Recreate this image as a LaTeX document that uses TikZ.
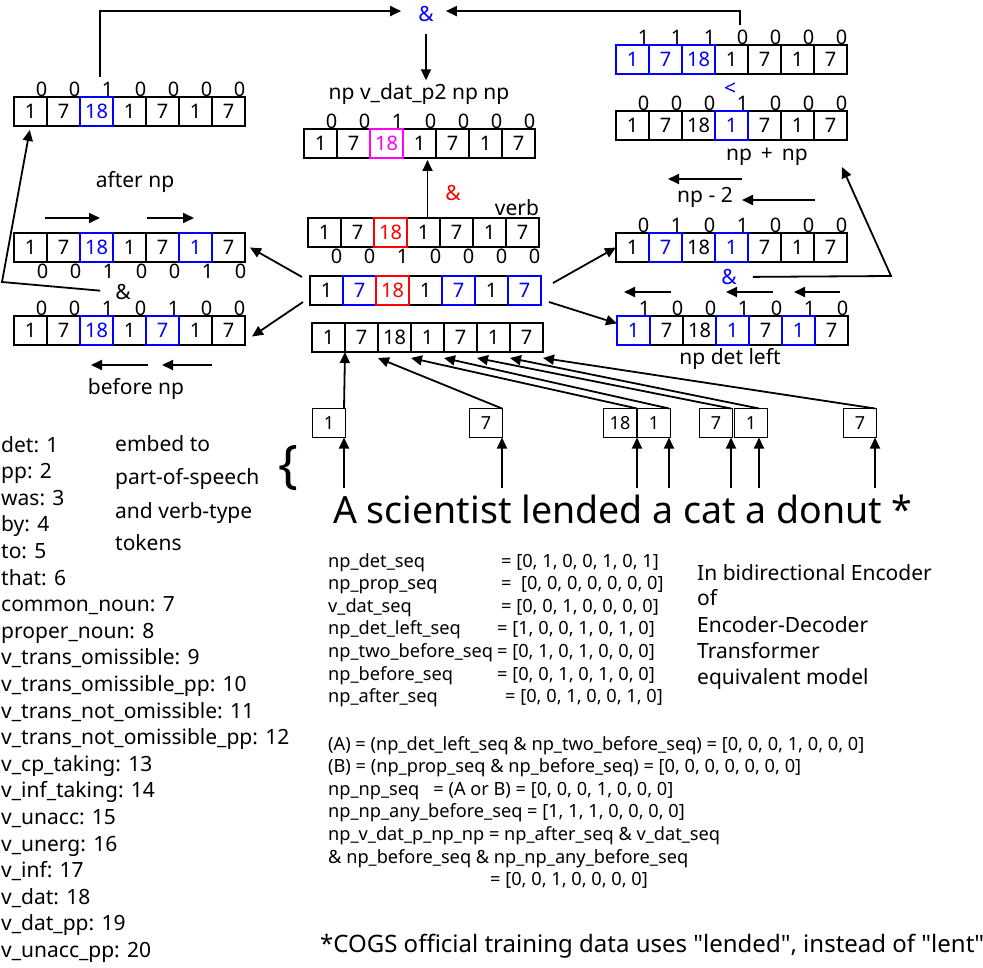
\documentclass[tikz,border=0pt]{standalone}
\usepackage{fontspec}
\setmainfont{Noto Sans}
\newfontfamily\codefont{Noto Sans}
\usetikzlibrary{arrows.meta,calc}
\definecolor{mag}{RGB}{255,0,255}
\tikzstyle{cell} = [draw=black, line width=1.8pt, minimum width=33pt, minimum height=29pt, inner sep=0pt, outer sep=0pt, font=\fontsize{20}{20}\selectfont]
\tikzstyle{bit} = [inner sep=0pt, font=\fontsize{20}{20}\selectfont]
\tikzstyle{lbl} = [inner sep=0pt, font=\fontsize{21}{21}\selectfont]
\tikzstyle{legend} = [inner sep=0pt, anchor=base west, font=\fontsize{21}{21}\selectfont]
\tikzstyle{code} = [inner sep=0pt, anchor=base west, font=\codefont\fontsize{18.2}{18.2}\selectfont]
\tikzstyle{arrow} = [line width=1.8pt, -{Triangle[length=11pt,width=10pt]}]
\def\blk{black}
% one row of seven token cells, coloured borders drawn last
\newcommand{\seqrow}[3]{%
  \foreach \v/\cl [count=\i] in {#3}
    \node[cell, text=\cl] (#1-\i) at ($(#2)+(\i*33-16.5,14.5)$) {\v};
  \foreach \v/\cl [count=\i] in {#3}
    {\ifx\cl\blk\else\node[cell, draw=\cl] at (#1-\i) {};\fi}
}
\newcommand{\bitsabove}[2]{%
  \foreach \b [count=\i] in {#2}
    \node[bit, anchor=south] (#1-b\i) at ([xshift=11pt]#1-\i.north) {\b};
}
\newcommand{\bitsbelow}[2]{%
  \foreach \b [count=\i] in {#2}
    \node[bit, anchor=north] (#1-b\i) at ([xshift=12pt,yshift=-2pt]#1-\i.south) {\b};
}

\begin{document}
\begin{tikzpicture}[x=1pt,y=-1pt]
        \useasboundingbox (0,0) rectangle (983,968);

        % sequences
        \seqrow{L1}{14,97}{1/black,7/black,18/blue,1/black,7/black,1/black,7/black}
        \bitsabove{L1}{0,0,1,0,0,0,0}
        \seqrow{TC}{304,129}{1/black,7/black,18/mag,1/black,7/black,1/black,7/black}
        \bitsabove{TC}{0,0,1,0,0,0,0}
        \seqrow{TR1}{616,45}{1/blue,7/blue,18/blue,1/black,7/black,1/black,7/black}
        \bitsabove{TR1}{1,1,1,0,0,0,0}
        \seqrow{TR2}{616,111}{1/black,7/black,18/black,1/blue,7/black,1/black,7/black}
        \bitsabove{TR2}{0,0,0,1,0,0,0}
        \seqrow{L2}{14,233}{1/black,7/black,18/blue,1/black,7/black,1/blue,7/black}
        \bitsbelow{L2}{0,0,1,0,0,1,0}
        \seqrow{L3}{14,316}{1/black,7/black,18/blue,1/black,7/blue,1/black,7/black}
        \bitsabove{L3}{0,0,1,0,1,0,0}
        \seqrow{V}{308,218}{1/black,7/black,18/red,1/black,7/black,1/black,7/black}
        \bitsbelow{V}{0,0,1,0,0,0,0}
        \seqrow{M}{310,276}{1/black,7/blue,18/red,1/black,7/blue,1/black,7/blue}
        \seqrow{B}{312,323}{1/black,7/black,18/black,1/black,7/black,1/black,7/black}
        \seqrow{R1}{616,233}{1/black,7/blue,18/black,1/blue,7/black,1/black,7/black}
        \bitsabove{R1}{0,1,0,1,0,0,0}
        \seqrow{R2}{617,316}{1/blue,7/black,18/black,1/blue,7/black,1/blue,7/black}
        \bitsabove{R2}{1,0,0,1,0,1,0}

        % labels
        \node[lbl, text=blue] (andtop) at (426,14) {\&};
        \node[lbl] (vdat) at (419,94) {np v\_dat\_p2 np np};
        \node[lbl, text=red] (andverb) at (453,193) {\&};
        \node[lbl] (verb) at (517,208) {verb};
        \node[lbl] (after) at (135,182) {after np};
        \node[lbl] (andleft) at (123,292) {\&};
        \node[lbl] (before) at (136,389) {before np};
        \node[lbl, text=blue] (less) at (730,89) {<};
        \node[lbl] (npnp) at (767,157) {np \,+\, np};
        \node[lbl] (npm2) at (705,197) {np - 2};
        \node[lbl, text=blue] (andright) at (729,277) {\&};
        \node[lbl] (detleft) at (730,359) {np det left};

        % combining
        \coordinate (tl) at (100,77);
        \coordinate (tr) at (740,25);
        \draw[arrow, shorten >=17pt] (tl) |- ([yshift=-5pt]andtop.north west);
        \draw[arrow, shorten >=12pt] (tr) |- ([yshift=-5pt]andtop.north east);
        \draw[arrow, shorten <=12pt, shorten >=3pt] (andtop.south) -- (vdat.north -| andtop.south);
        \draw[arrow, shorten >=2pt] ([xshift=4pt]V-4.north) -- ([xshift=4pt]V-4.north |- TC-4.south);
        \coordinate (lbend) at (2,282);
        \draw[arrow, shorten <=15pt, shorten >=4pt] (andleft.west) -- (lbend) -- (L1-1.south);
        \coordinate (rbend) at (891,276);
        \coordinate (rtip) at (842,167);
        \draw[arrow, shorten <=16pt] (andright.east) -- (rbend) -- (rtip);

        \draw[arrow] ([xshift=-8pt,yshift=-1pt]M-1.north west) -- ([xshift=5pt]L2-7.east);
        \draw[arrow] ([xshift=-7pt,yshift=3pt]M-1.south west) -- ([xshift=7pt,yshift=-6pt]L3-7.east);
        \draw[arrow] ([xshift=12pt,yshift=-7pt]M-7.north east) -- (R1-1.west);
        \draw[arrow] ([xshift=8pt,yshift=3pt]M-7.south east) -- ([yshift=7pt]R2-1.west);

        % shift directions
        \foreach \n/\xa/\xb/\y in {a1/45/100/218, a2/147/194/218, b1/148/91/365, b2/212/162/365,
            c1/742/668/179, c2/815/742/200, d1/671/624/292, d2/773/726/292, d3/840/794/292} {
          \coordinate (\n-s) at (\xa,\y);
          \coordinate (\n-e) at (\xb,\y);
          \draw[arrow] (\n-s) -- (\n-e);
        }

        % sentence and embedding
        \node[inner sep=0pt, anchor=base west, font=\fontsize{37.5}{37.5}\selectfont] (sent) at (333,523) {A scientist lended a cat a donut *};
        \foreach \n/\v/\cx/\ax in {t1/1/329/344, t2/7/486/502, t3/18/620/637, t4/1/654/669,
            t5/7/716/731, t6/1/751/759, t7/7/860/875} {
          \node[cell, font=\fontsize{18}{18}\selectfont] (\n) at (\cx,423) {\v};
          \coordinate (\n-w) at (\ax,488);
          \draw[arrow] (\n-w) -- (\n-w |- \n.south);
        }
        \draw[arrow] (t1-w |- t1.north) -- (B-1.south east);
        \foreach \n/\tg in {t2/B-3.south west, t3/B-4.south west, t4/B-5.south west,
            t5/B-6.south west, t6/B-7.south west, t7/B-7.south east}
          \draw[arrow] (\n-w |- \n.north) -- ([yshift=-6pt]\tg);

        % vocabulary
        \foreach \t [count=\i] in {det: 1, pp: 2, was: 3, by: 4, to: 5, that: 6, common\_noun: 7,
            proper\_noun: 8, v\_trans\_omissible: 9, v\_trans\_omissible\_pp: 10,
            v\_trans\_not\_omissible: 11, v\_trans\_not\_omissible\_pp: 12, v\_cp\_taking: 13,
            v\_inf\_taking: 14, v\_unacc: 15, v\_unerg: 16, v\_inf: 17, v\_dat: 18,
            v\_dat\_pp: 19, v\_unacc\_pp: 20}
          \node[legend] (voc\i) at (1,452+26.6*\i-26.6) {\t};
        \foreach \t/\y [count=\i] in {embed to/451, part-of-speech/484, and verb-type/518, tokens/550}
          \node[legend] (emb\i) at (115,\y) {\t};
        \node[inner sep=0pt, font=\fontsize{52}{52}\selectfont] (brace) at (288,468) {\{};

        % sequences as code
        \foreach \t/\x/\v [count=\i] in {np\_det\_seq/501/{= [0, 1, 0, 0, 1, 0, 1]},
            np\_prop\_seq/501/{=\ \ [0, 0, 0, 0, 0, 0, 0]}, v\_dat\_seq/501/{= [0, 0, 1, 0, 0, 0, 0]},
            np\_det\_left\_seq/497/{= [1, 0, 0, 1, 0, 1, 0]}, np\_two\_before\_seq/497/{= [0, 1, 0, 1, 0, 0, 0]},
            np\_before\_seq/497/{= [0, 0, 1, 0, 1, 0, 0]}, np\_after\_seq/505/{= [0, 0, 1, 0, 0, 1, 0]}} {
          \node[code] (seq\i) at (328,567+22.6*\i-22.6) {\t};
          \node[code] (val\i) at (\x,567+22.6*\i-22.6) {\v};
        }
        \foreach \t/\y [count=\i] in {In bidirectional Encoder/580, of/605, Encoder-Decoder/632,
            Transformer/658, equivalent model/684}
          \node[legend] (enc\i) at (697,\y) {\t};
        \foreach \t [count=\i] in {{(A) = (np\_det\_left\_seq \& np\_two\_before\_seq) = [0, 0, 0, 1, 0, 0, 0]},
            {(B) = (np\_prop\_seq \& np\_before\_seq) = [0, 0, 0, 0, 0, 0, 0]},
            {np\_np\_seq\hspace{14pt}= (A or B) = [0, 0, 0, 1, 0, 0, 0]},
            {np\_np\_any\_before\_seq = [1, 1, 1, 0, 0, 0, 0]},
            {np\_v\_dat\_p\_np\_np = np\_after\_seq \& v\_dat\_seq},
            {\& np\_before\_seq \& np\_np\_any\_before\_seq}}
          \node[code] (form\i) at (328,750+22.6*\i-22.6) {\t};
        \node[code] (form7) at (490,885) {= [0, 0, 1, 0, 0, 0, 0]};
        \node[inner sep=0pt, anchor=base west, font=\fontsize{24}{24}\selectfont] (note) at (320,952) {*COGS official training data uses \textquotedbl lended\textquotedbl, instead of \textquotedbl lent\textquotedbl};
\end{tikzpicture}
\end{document}
